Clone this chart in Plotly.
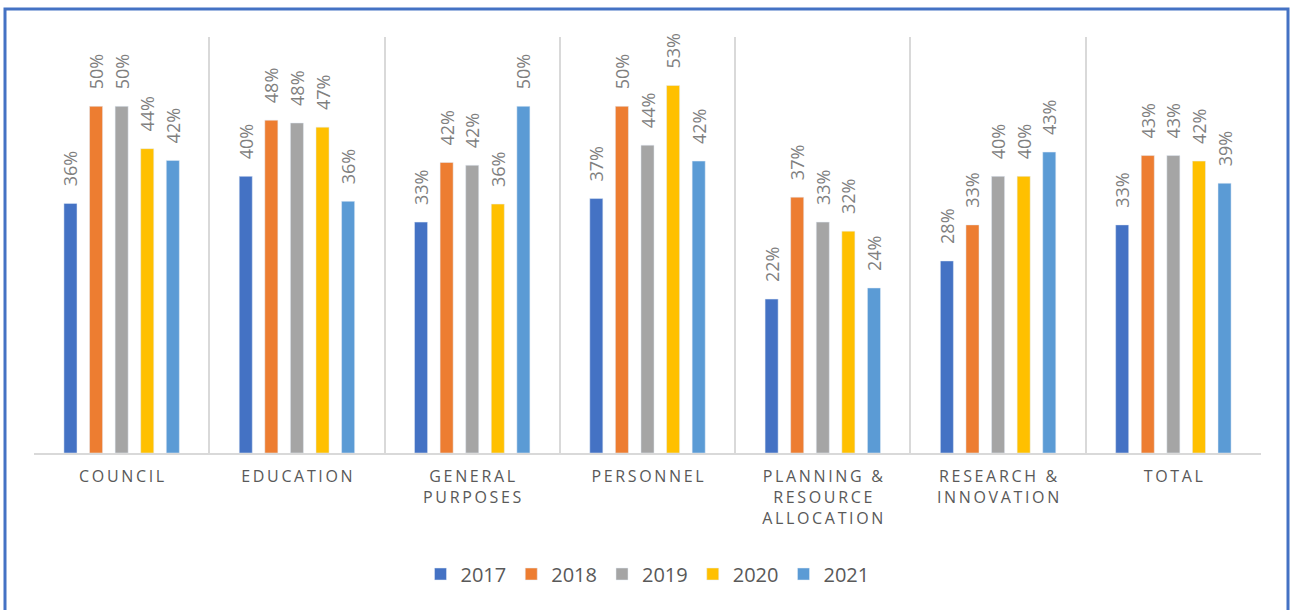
import plotly.graph_objects as go

categories = ["COUNCIL", "EDUCATION", "GENERAL<br>PURPOSES", "PERSONNEL",
              "PLANNING &<br>RESOURCE<br>ALLOCATION", "RESEARCH &<br>INNOVATION", "TOTAL"]
years = ["2017", "2018", "2019", "2020", "2021"]
v2017 = [0.360, 0.399, 0.333, 0.367, 0.222, 0.277, 0.329]
v2018 = [0.500, 0.480, 0.419, 0.500, 0.369, 0.329, 0.429]
v2019 = [0.500, 0.476, 0.415, 0.444, 0.333, 0.399, 0.429]
v2020 = [0.439, 0.470, 0.359, 0.530, 0.320, 0.399, 0.421]
v2021 = [0.422, 0.363, 0.500, 0.421, 0.238, 0.434, 0.389]
colors = ["#4472C4", "#ED7D31", "#A5A5A5", "#FFC000", "#5B9BD5"]

def spaced(label):
    # emulate the letter spacing of the original tick labels
    lines = label.split("<br>")
    return "<br>".join("\u2009".join(list(line)) for line in lines)

tick_text = [spaced(c) for c in categories]
xpos = list(range(len(categories)))

fig = go.Figure()
for name, vals, col in zip(years, [v2017, v2018, v2019, v2020, v2021], colors):
    fig.add_trace(go.Bar(
        x=xpos, y=vals, name=name, marker_color=col,
        texttemplate="\u00a0\u00a0\u00a0%{y:.0%}", textposition="outside", textangle=-90,
        constraintext="none",
        textfont=dict(family="Open Sans", size=18, color="#7f7f7f"),
        cliponaxis=False,
    ))

L, R, T, B = 34, 29, 37, 157
W, H = 1290, 610
pw, ph = W - L - R, H - T - B

fig.update_layout(
    width=W, height=H,
    margin=dict(l=L, r=R, t=T, b=B),
    paper_bgcolor="white", plot_bgcolor="white",
    barmode="group", bargap=0.27, bargroupgap=0.49,
    font=dict(family="Open Sans", color="#595959"),
    legend=dict(orientation="h", x=0.5, xanchor="center", y=(453 - 574) / ph, yanchor="middle",
                font=dict(size=20, color="#595959"), itemwidth=30, traceorder="normal"),
    xaxis=dict(range=[-0.5, len(categories) - 0.5], tickvals=xpos, ticktext=tick_text,
               showgrid=False, zeroline=False, showline=True, linecolor="#d9d9d9", linewidth=2,
               ticks="", tickfont=dict(size=16, color="#595959"), ticklabelstandoff=8,
               minor=dict(tick0=0.5, dtick=1, showgrid=True, gridcolor="#d9d9d9", gridwidth=2)),
    yaxis=dict(range=[0, 0.6], visible=False, showgrid=False),
    showlegend=True,
)

# outer chart border
fig.add_shape(type="rect", xref="paper", yref="paper",
              x0=(5 - L) / pw, x1=(1288 - L) / pw,
              y0=(453 - 620) / ph, y1=(453 - 9) / ph,
              line=dict(color="#4472C4", width=3), layer="below")

fig.write_html("out.html", config={"displayModeBar": False},
               post_script="document.body.style.margin='0';document.body.style.overflow='hidden';")
